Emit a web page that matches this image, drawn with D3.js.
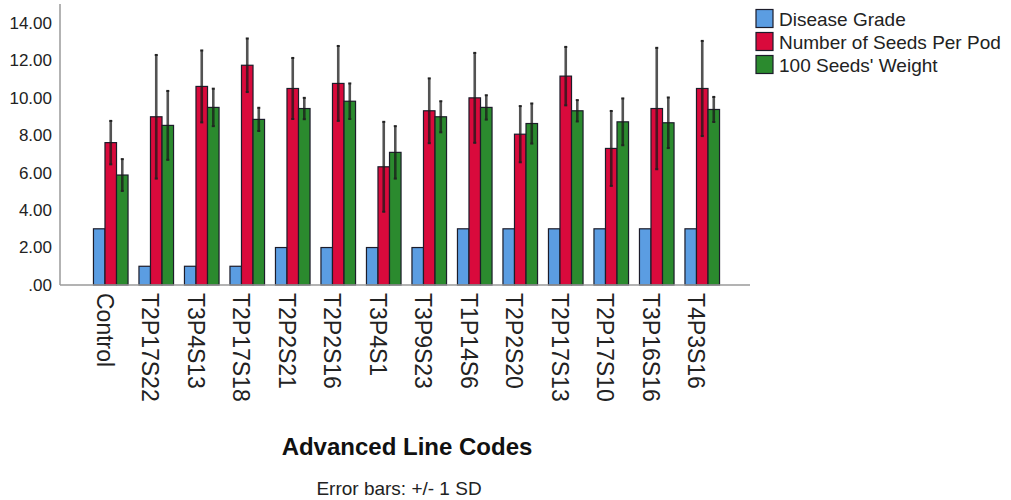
<!DOCTYPE html>
<html>
<head>
<meta charset="utf-8">
<script src="https://cdn.jsdelivr.net/npm/d3@7"></script>
<style>
  body { margin: 0; background: #fff; }
  svg { font-family: "Liberation Sans", Arial, sans-serif; }
</style>
</head>
<body>
<div id="chart"></div>
<script>
"use strict";

// line codes on the x axis
var codes = ["Control", "T2P17S22", "T3P4S13", "T2P17S18", "T2P2S21", "T2P2S16", "T3P4S1",
    "T3P9S23", "T1P14S6", "T2P2S20", "T2P17S13", "T2P17S10", "T3P16S16", "T4P3S16"];

var seriesNames = ["Disease Grade", "Number of Seeds Per Pod", "100 Seeds' Weight"];
var seriesColors = ["#5b9de2", "#d90a3c", "#2b8a2e"];

// means
var diseaseGrade = [3, 1, 1, 1, 2, 2, 2, 2, 3, 3, 3, 3, 3, 3];
var seedsPerPod = [7.6, 8.98, 10.6, 11.73, 10.49, 10.76, 6.31, 9.3, 9.99, 8.05, 11.15, 7.29, 9.42, 10.49];
var seedWeight = [5.87, 8.52, 9.48, 8.84, 9.42, 9.81, 7.08, 8.98, 9.48, 8.62, 9.3, 8.71, 8.66, 9.37];

// standard deviations
var diseaseSD = [0, 0, 0, 0, 0, 0, 0, 0, 0, 0, 0, 0, 0, 0];
var seedsSD = [1.16, 3.3, 1.92, 1.43, 1.63, 2.0, 2.4, 1.73, 2.4, 1.5, 1.56, 2.0, 3.24, 2.54];
var weightSD = [0.85, 1.84, 1.0, 0.62, 0.57, 0.95, 1.4, 0.83, 0.65, 1.07, 0.57, 1.25, 1.35, 0.67];

var yTicks = [0, 2, 4, 6, 8, 10, 12, 14];

var means = [diseaseGrade, seedsPerPod, seedWeight];
var sds = [diseaseSD, seedsSD, weightSD];

var W = 1011, H = 500;
var plot = { left: 60, right: 750, top: 4, bottom: 285 };

var svg = d3.select("#chart").append("svg")
    .attr("width", W)
    .attr("height", H);

var x0 = d3.scaleBand()
    .domain(codes)
    .range([88, 725])
    .paddingInner(0.24)
    .paddingOuter(0.12);

var x1 = d3.scaleBand()
    .domain(d3.range(seriesNames.length))
    .range([0, x0.bandwidth()]);

var y = d3.scaleLinear()
    .domain([0, 15])
    .range([plot.bottom, plot.top]);

// y tick labels (no tick marks)
var yAxis = svg.append("g")
    .attr("transform", "translate(" + plot.left + ",0)")
    .call(d3.axisLeft(y).tickValues(yTicks).tickSize(0).tickPadding(8)
        .tickFormat(function(d) { return d === 0 ? ".00" : d3.format(".2f")(d); }));
yAxis.select(".domain").remove();
yAxis.selectAll("text")
    .style("font-size", "17px")
    .attr("fill", "#222");

// rows of data per group
var rows = codes.map(function(c, i) {
    return seriesNames.map(function(s, j) {
        return { code: c, s: j, v: means[j][i], sd: sds[j][i] };
    });
});

var groups = svg.append("g").selectAll("g")
    .data(rows)
    .enter()
    .append("g")
    .attr("transform", function(d) { return "translate(" + x0(d[0].code) + ",0)"; });

groups.selectAll("rect")
    .data(function(d) { return d; })
    .enter()
    .append("rect")
    .attr("x", function(d) { return x1(d.s); })
    .attr("y", function(d) { return y(d.v); })
    .attr("width", x1.bandwidth())
    .attr("height", function(d) { return y(0) - y(d.v); })
    .attr("fill", function(d) { return seriesColors[d.s]; })
    .attr("stroke", "#1c1c2a")
    .attr("stroke-width", 1.2);

// error bars
var err = groups.selectAll("g.err")
    .data(function(d) { return d.filter(function(e) { return e.sd > 0; }); })
    .enter()
    .append("g")
    .attr("class", "err")
    .attr("transform", function(d) { return "translate(" + (x1(d.s) + x1.bandwidth() / 2) + ",0)"; });

err.append("line")
    .attr("y1", function(d) { return y(d.v - d.sd); })
    .attr("y2", function(d) { return y(d.v + d.sd); })
    .attr("stroke", "#1a1a1a")
    .attr("stroke-opacity", 0.75)
    .attr("stroke-width", 2.6);

err.selectAll("line.cap")
    .data(function(d) { return [d.v - d.sd, d.v + d.sd]; })
    .enter()
    .append("line")
    .attr("class", "cap")
    .attr("x1", -1.5)
    .attr("x2", 1.5)
    .attr("y1", function(v) { return y(v); })
    .attr("y2", function(v) { return y(v); })
    .attr("stroke", "#222")
    .attr("stroke-width", 2);

// axis lines
svg.append("line")
    .attr("x1", plot.left).attr("x2", plot.left)
    .attr("y1", plot.top).attr("y2", plot.bottom)
    .attr("stroke", "#9a9a9a")
    .attr("stroke-width", 1.5);
svg.append("line")
    .attr("x1", plot.left).attr("x2", plot.right)
    .attr("y1", plot.bottom).attr("y2", plot.bottom)
    .attr("stroke", "#9a9a9a")
    .attr("stroke-width", 1.5);

// x labels, rotated to read downward
svg.append("g").selectAll("text")
    .data(codes)
    .enter()
    .append("text")
    .attr("transform", function(d) {
        return "translate(" + (x0(d) + x0.bandwidth() / 2 - 6) + "," + 293 + ") rotate(90)";
    })
    .attr("dy", "0.35em")
    .attr("text-anchor", "start")
    .style("font-size", "23px")
    .attr("fill", "#222")
    .text(function(d) { return d; });

// axis title and note
svg.append("text")
    .attr("x", 407)
    .attr("y", 455)
    .attr("text-anchor", "middle")
    .style("font-size", "24px")
    .style("font-weight", "bold")
    .attr("fill", "#111")
    .text("Advanced Line Codes");

svg.append("text")
    .attr("x", 399)
    .attr("y", 495)
    .attr("text-anchor", "middle")
    .style("font-size", "19px")
    .attr("fill", "#222")
    .text("Error bars: +/- 1 SD");

// legend
var legend = svg.append("g").selectAll("g")
    .data(seriesNames)
    .enter()
    .append("g")
    .attr("transform", function(d, i) { return "translate(756," + (9.5 + i * 23) + ")"; });

legend.append("rect")
    .attr("width", 17)
    .attr("height", 18)
    .attr("fill", function(d, i) { return seriesColors[i]; })
    .attr("stroke", "#1c1c2a")
    .attr("stroke-width", 1.2);

legend.append("text")
    .attr("x", 23)
    .attr("y", 10)
    .attr("dy", "0.35em")
    .style("font-size", "19px")
    .attr("fill", "#222")
    .text(function(d) { return d; });
</script>
</body>
</html>
